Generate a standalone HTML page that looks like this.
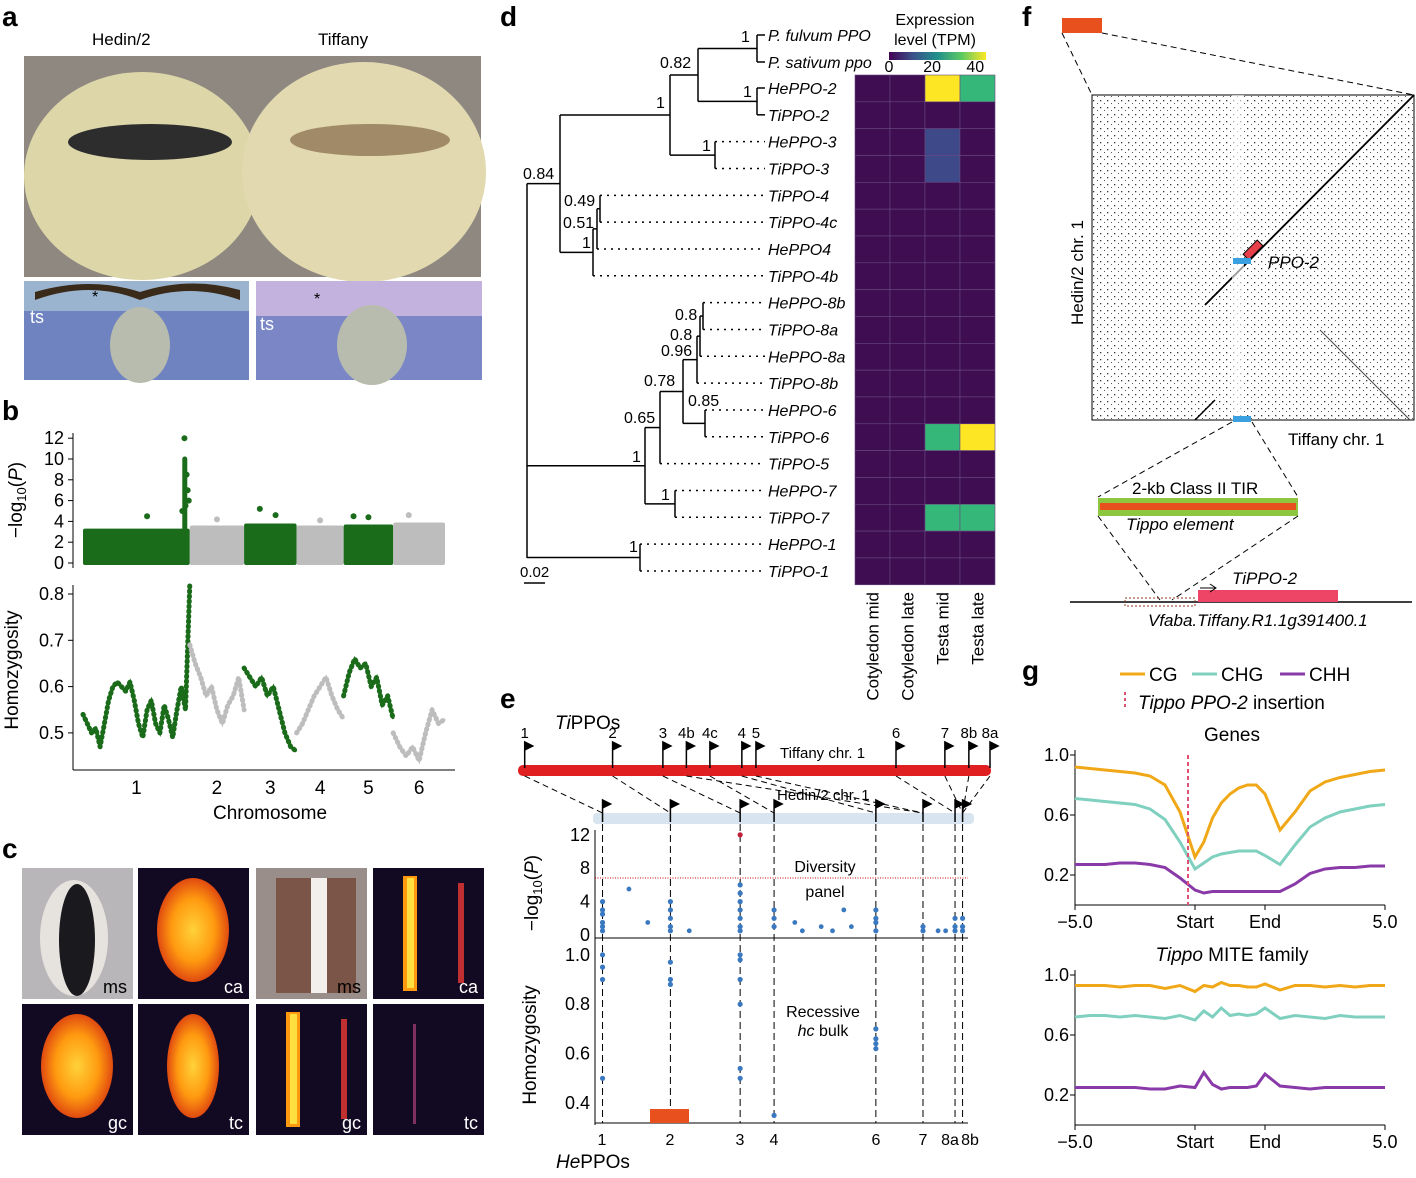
<!DOCTYPE html>
<html><head><meta charset="utf-8"><style>
body{margin:0;background:#fff}
svg{font-family:"Liberation Sans",Arial,sans-serif}
.pl{font-weight:bold;font-size:28px}
.t{font-size:17px}
.i{font-style:italic}
</style></head><body>
<svg id="fig" width="1416" height="1173" viewBox="0 0 1416 1173" xmlns="http://www.w3.org/2000/svg">
<defs>
<pattern id="dots" width="7" height="7" patternUnits="userSpaceOnUse"><rect x="1" y="2" width="1.3" height="1.3" fill="#333"/><rect x="5" y="5" width="1" height="1" fill="#555"/></pattern>
<linearGradient id="vir" x1="0" x2="1"><stop offset="0" stop-color="#440154"/><stop offset=".25" stop-color="#3b528b"/><stop offset=".5" stop-color="#21918c"/><stop offset=".75" stop-color="#5ec962"/><stop offset="1" stop-color="#fde725"/></linearGradient>
<radialGradient id="heat"><stop offset="0" stop-color="#ffd23a"/><stop offset=".6" stop-color="#ff9a10"/><stop offset="1" stop-color="#e04a10"/></radialGradient>
</defs>
<text class="pl" x="2" y="26">a</text>
<text class="pl" x="2" y="420">b</text>
<text class="pl" x="2" y="858">c</text>
<text class="pl" x="500" y="26">d</text>
<text class="pl" x="500" y="708">e</text>
<text class="pl" x="1022" y="26">f</text>
<text class="pl" x="1022" y="680">g</text>

<g>
<text class="t" x="92" y="45" font-size="19">Hedin/2</text>
<text class="t" x="318" y="45" font-size="19">Tiffany</text>
<rect x="24" y="56" width="457" height="221" fill="#8f8880"/>
<ellipse cx="142" cy="176" rx="118" ry="104" fill="#dcd6a8"/>
<ellipse cx="364" cy="172" rx="122" ry="110" fill="#e2d9b0"/>
<ellipse cx="150" cy="142" rx="82" ry="18" fill="#2d2d2d"/>
<ellipse cx="370" cy="140" rx="80" ry="16" fill="#a08a68"/>
<rect x="24" y="281" width="225" height="99" fill="#6f83c0"/>
<rect x="24" y="281" width="225" height="30" fill="#9ab4cf"/>
<path d="M35 300 Q90 280 140 300 Q190 282 240 300 L240 290 Q190 276 140 292 Q90 276 35 292Z" fill="#3a2a1a"/>
<ellipse cx="140" cy="345" rx="30" ry="38" fill="#b8bcae"/>
<rect x="256" y="281" width="226" height="99" fill="#7a86c6"/>
<rect x="256" y="281" width="226" height="35" fill="#c2b2dd"/>
<ellipse cx="372" cy="345" rx="35" ry="40" fill="#b8bcae"/>
<text x="30" y="323" font-size="18" fill="#fff">ts</text>
<text x="260" y="330" font-size="18" fill="#fff">ts</text>
<text x="92" y="302" font-size="16">*</text>
<text x="314" y="304" font-size="16">*</text>
</g>

<g id="pb"></g>
<g id="pc"></g>
<g id="pd"></g>
<g id="pe"></g>

<g>
<rect x="1062" y="18" width="40" height="15" fill="#e8501e"/>
<line x1="1062" y1="33" x2="1092" y2="95" stroke="#000" stroke-dasharray="6,4"/>
<line x1="1102" y1="33" x2="1414" y2="95" stroke="#000" stroke-dasharray="6,4"/>
<rect x="1092" y="95" width="322" height="325" fill="url(#dots)" stroke="#000"/>
<line x1="1205" y1="305" x2="1414" y2="95" stroke="#000" stroke-width="1.8"/>
<line x1="1195" y1="420" x2="1215" y2="400" stroke="#000" stroke-width="1.5"/>
<line x1="1320" y1="330" x2="1410" y2="420" stroke="#444" stroke-width="1"/>
<rect x="1232" y="95" width="12" height="325" fill="#fff" opacity=".6"/>
<rect x="1249" y="240" width="8" height="20" fill="#e8404a" stroke="#000" transform="rotate(45 1253 250)"/>
<rect x="1233" y="258" width="18" height="6" fill="#3aa0e0"/>
<rect x="1233" y="416" width="18" height="6" fill="#3aa0e0"/>
<text class="t i" x="1268" y="268" font-size="19">PPO-2</text>
<text class="t" x="1083" y="325" font-size="19" transform="rotate(-90 1083 325)">Hedin/2 chr. 1</text>
<text class="t" x="1288" y="445" font-size="19">Tiffany chr. 1</text>
<line x1="1232" y1="422" x2="1098" y2="497" stroke="#000" stroke-dasharray="6,4"/>
<line x1="1252" y1="422" x2="1298" y2="497" stroke="#000" stroke-dasharray="6,4"/>
<text class="t" x="1132" y="494" font-size="18">2-kb Class II TIR</text>
<rect x="1098" y="498" width="200" height="18" fill="#8dc63f"/>
<rect x="1100" y="503" width="196" height="7" fill="#e8501e"/>
<text class="t i" x="1126" y="530" font-size="18">Tippo element</text>
<line x1="1098" y1="516" x2="1160" y2="600" stroke="#000" stroke-dasharray="6,4"/>
<line x1="1298" y1="516" x2="1172" y2="600" stroke="#000" stroke-dasharray="6,4"/>
<line x1="1070" y1="602" x2="1412" y2="602" stroke="#000" stroke-width="1.5"/>
<rect x="1198" y="590" width="140" height="12" fill="#ee4466"/>
<rect x="1125" y="598" width="70" height="8" fill="none" stroke="#8a3a20" stroke-dasharray="2,2"/>
<path d="M1200 588 L1215 588 M1210 584 L1216 588 L1210 592" stroke="#000" fill="none"/>
<text class="t i" x="1232" y="584" font-size="19">TiPPO-2</text>
<text class="t i" x="1148" y="626" font-size="18">Vfaba.Tiffany.R1.1g391400.1</text>
</g>

<g id="pg"></g>
</svg>
<script>
const NS="http://www.w3.org/2000/svg";
function mk(p,tag,a,txt){const e=document.createElementNS(NS,tag);for(const k in a)e.setAttribute(k,a[k]);if(txt!==undefined)e.textContent=txt;p.appendChild(e);return e;}

const bChromLabels=["1","2","3","4","5","6"];
const bChromStart=[0,0.295,0.445,0.59,0.72,0.857];
const bBandTop=[3.3,3.6,3.8,3.6,3.7,3.9];
const bPeakChr=[0,0,0,0,0,0,0,2,2,4,4,5,1,3];
const bPeakPos=[0.95,0.97,0.98,0.99,0.96,0.93,0.6,0.3,0.6,0.2,0.5,0.3,0.5,0.5];
const bPeakVal=[12,8.5,7,6,5.5,5,4.5,5.2,4.6,4.5,4.4,4.6,4.2,4.1];
const bHomo=[
[0.54,0.52,0.50,0.51,0.47,0.52,0.57,0.60,0.61,0.60,0.59,0.61,0.57,0.52,0.49,0.55,0.57,0.52,0.50,0.56,0.53,0.49,0.55,0.60,0.55,0.82],
[0.69,0.65,0.62,0.58,0.60,0.55,0.52,0.56,0.58,0.62,0.55],
[0.64,0.62,0.60,0.62,0.58,0.60,0.55,0.50,0.47,0.46],
[0.50,0.52,0.55,0.58,0.60,0.62,0.58,0.55,0.53],
[0.58,0.63,0.66,0.64,0.65,0.60,0.62,0.56,0.58,0.53],
[0.50,0.47,0.45,0.47,0.44,0.50,0.55,0.52,0.53]];
const bPTicks=[0,2,4,6,8,10,12];
const bHTicks=[0.5,0.6,0.7,0.8];
(function(){
const g=document.getElementById('pb');
const x0=83,x1=445;const xs=f=>x0+f*(x1-x0);
const yP=v=>563-v*10.4, yH=v=>594+(0.8-v)*463;
const col=i=>i%2==0?"#1a6b1a":"#bdbdbd";
mk(g,'line',{x1:73,y1:433,x2:73,y2:568,stroke:'#000'});
bPTicks.forEach(t=>{mk(g,'line',{x1:68,y1:yP(t),x2:73,y2:yP(t),stroke:'#000'});const e=mk(g,'text',{x:64,y:yP(t)+6,'text-anchor':'end','font-size':18},t);});
const tt=mk(g,'text',{x:22,y:500,'font-size':19,'text-anchor':'middle',transform:'rotate(-90 22 500)'},'−log');mk(tt,'tspan',{'font-size':13,dy:4},'10');mk(tt,'tspan',{dy:-4},'(');mk(tt,'tspan',{'font-style':'italic'},'P');mk(tt,'tspan',{},')');

for(let i=0;i<6;i++){const a=xs(bChromStart[i]),b=xs(i<5?bChromStart[i+1]:1);
 const r=mk(g,'rect',{x:a,y:yP(bBandTop[i]),width:b-a,height:yP(0)-yP(bBandTop[i])+2,fill:col(i),rx:2});
 }
bPeakChr.forEach((c,k)=>{const a=xs(bChromStart[c]),b=xs(c<5?bChromStart[c+1]:1);
 const e=mk(g,'circle',{cx:a+bPeakPos[k]*(b-a),cy:yP(bPeakVal[k]),r:3,fill:col(c)});});
mk(g,'line',{x1:xs(bChromStart[1])-5,y1:yP(3),x2:xs(bChromStart[1])-5,y2:yP(10),stroke:col(0),'stroke-width':5,'stroke-linecap':'round'});
mk(g,'line',{x1:73,y1:585,x2:73,y2:770,stroke:'#000'});mk(g,'line',{x1:73,y1:770,x2:455,y2:770,stroke:'#000'});
bHTicks.forEach(t=>{mk(g,'line',{x1:68,y1:yH(t),x2:73,y2:yH(t),stroke:'#000'});const e=mk(g,'text',{x:64,y:yH(t)+6,'text-anchor':'end','font-size':18},t.toFixed(1));});
const ht=mk(g,'text',{x:18,y:670,'font-size':19,'text-anchor':'middle',transform:'rotate(-90 18 670)'},'Homozygosity');
bHomo.forEach((arr,i)=>{const a=xs(bChromStart[i]),b=xs(i<5?bChromStart[i+1]:1);
 const pts=arr.map((v,k)=>(a+k*(b-a)/(arr.length-1)).toFixed(1)+','+yH(v).toFixed(1)).join(' ');
 const pl=mk(g,'polyline',{points:pts,fill:'none',stroke:col(i),'stroke-width':5,'stroke-linejoin':'round','stroke-linecap':'round','stroke-dasharray':'1,4'});
 
 mk(g,'polyline',{points:pts,fill:'none',stroke:col(i),'stroke-width':2.5});
 const e=mk(g,'text',{x:(a+b)/2,y:794,'text-anchor':'middle','font-size':19},bChromLabels[i]);});
const xt=mk(g,'text',{x:270,y:819,'text-anchor':'middle','font-size':19},'Chromosome');
})();

(function(){
const g=document.getElementById('pc');
const tx=[22,138,256,373],ty=[868,1004],w=111,h=131;
const labels=[["ms","ca","ms","ca"],["gc","tc","gc","tc"]];
for(let r=0;r<2;r++)for(let c=0;c<4;c++){
 const x=tx[c],y=ty[r];
 const t=mk(g,'rect',{x:x,y:y,width:w,height:h,fill:(r==0&&c==0)?'#b8b6b8':(r==0&&c==2)?'#9a8e8a':'#120a22'});
 
 if(r==0&&c==0){mk(g,'ellipse',{cx:x+52,cy:y+70,rx:34,ry:58,fill:'#e6e2de'});mk(g,'ellipse',{cx:x+55,cy:y+72,rx:18,ry:56,fill:'#1a1a1e'});}
 else if(r==0&&c==2){mk(g,'rect',{x:x+20,y:y+10,width:80,height:115,fill:'#7b5548'});mk(g,'rect',{x:x+55,y:y+10,width:16,height:115,fill:'#f2efec'});}
 else if((c==1||c==0)&&!(r==0&&c==0)){mk(g,'ellipse',{cx:x+55,cy:y+62,rx:c==1&&r==1?26:36,ry:52,fill:'url(#heat)'});}
 else if(c==3&&r==1){mk(g,'rect',{x:x+40,y:y+20,width:3,height:100,fill:'#803060'});}
 else{mk(g,'rect',{x:x+30,y:y+8,width:14,height:115,fill:'#ff9a10'});mk(g,'rect',{x:x+34,y:y+10,width:7,height:110,fill:'#ffe040'});mk(g,'rect',{x:x+85,y:y+15,width:6,height:100,fill:'#c03030'});}
 const e=mk(g,'text',{x:x+w-6,y:y+h-6,'text-anchor':'end','font-size':18,fill:(r==0&&c%2==0)?'#000':'#fff'},labels[r][c]);
 
}})();

const dGenes=["HePPO-2","TiPPO-2","HePPO-3","TiPPO-3","TiPPO-4","TiPPO-4c","HePPO4","TiPPO-4b","HePPO-8b","TiPPO-8a","HePPO-8a","TiPPO-8b","HePPO-6","TiPPO-6","TiPPO-5","HePPO-7","TiPPO-7","HePPO-1","TiPPO-1"];
const dConditions=["Cotyledon mid","Cotyledon late","Testa mid","Testa late"];
const dCotMid=[0,0,0,0,0,0,0,0,0,0,0,0,0,0,0,0,0,0,0];
const dCotLate=[0,0,0,0,0,0,0,0,0,0,0,0,0,0,0,0,0,0,0];
const dTestaMid=[44,2,9,9,0,0,0,0,0,0,0,0,0,31,0,0,30,0,0];
const dTestaLate=[30,2,2,2,0,0,0,0,0,0,0,0,0,44,0,0,30,0,0];
const dColorTicks=[0,20,40];
(function(){
const g=document.getElementById('pd');
const rowY=i=>88+i*26.83;
const hx0=855,cw=35,ht=75;
const vir=["#440154","#482878","#3e4989","#31688e","#26828e","#1f9e89","#35b779","#6ece58","#b5de2b","#fde725"];
const cmap=v=>vir[Math.min(9,Math.round(v/45*9))];
const cols=[dCotMid,dCotLate,dTestaMid,dTestaLate];
cols.forEach((arr,c)=>{arr.forEach((v,i)=>{const r=mk(g,'rect',{x:hx0+c*cw,y:ht+i*26.83,width:cw,height:26.83,fill:v<4?'#3e0d52':cmap(v),stroke:'#6a4a80','stroke-width':0.6});
 });
 const e=mk(g,'text',{x:hx0+c*cw+cw/2+6,y:592,'font-size':17,'text-anchor':'end',transform:`rotate(-90 ${hx0+c*cw+cw/2+6} 592)`},dConditions[c]);
 });
mk(g,'text',{x:935,y:25,'font-size':16,'text-anchor':'middle'},'Expression');
mk(g,'text',{x:935,y:45,'font-size':16,'text-anchor':'middle'},'level (TPM)');
const cb=mk(g,'rect',{x:889,y:52,width:97,height:8,fill:'url(#vir)'});
dColorTicks.forEach(t=>{const e=mk(g,'text',{x:889+t/45*97,y:72,'font-size':16,'text-anchor':'middle'},t);});
const leaves={"P. fulvum PPO":35,"P. sativum ppo":62};dGenes.forEach((n,i)=>leaves[n]=rowY(i));
const N=(x,kids,lab,lx,ly)=>({x,kids,lab,lx,ly});
const fs=N(757,["P. fulvum PPO","P. sativum ppo"],"1",741,42);
const n2=N(757,["HePPO-2","TiPPO-2"],"1",743,97);
const na=N(698,[fs,n2],"0.82",660,68);
const n3=N(715,["HePPO-3","TiPPO-3"],"1",702,151);
const nb=N(670,[na,n3],"1",656,108);
const n4a=N(600,["TiPPO-4","TiPPO-4c"],"0.49",564,206);
const n4b=N(597,[n4a,"HePPO4"],"0.51",563,228);
const n4=N(593,[n4b,"TiPPO-4b"],"1",582,248);
const nc=N(560,[nb,n4],"0.84",523,179);
const n8x=N(703,["HePPO-8b","TiPPO-8a"],"0.8",675,320);
const n8y=N(700,[n8x,"HePPO-8a"],"0.8",670,340);
const n8z=N(697,[n8y,"TiPPO-8b"],"0.96",661,356);
const n6=N(705,["HePPO-6","TiPPO-6"],"0.85",688,406);
const n86=N(683,[n8z,n6],"0.78",644,386);
const n865=N(660,[n86,"TiPPO-5"],"0.65",624,423);
const n7=N(675,["HePPO-7","TiPPO-7"],"1",661,500);
const ng=N(645,[n865,n7],"1",632,462);
const n1=N(640,["HePPO-1","TiPPO-1"],"1",629,552);
const root=N(527,[nc,ng,n1],null);
function ny(n){if(typeof n==='string')return leaves[n];const ys=n.kids.map(ny);return n.kids.length==3?ys[0]:(ys[0]+ys[ys.length-1])/2;}
function draw(n){const ys=n.kids.map(ny);
 mk(g,'line',{x1:n.x,y1:Math.min(...ys),x2:n.x,y2:Math.max(...ys),stroke:'#000','stroke-width':1.5});
 n.kids.forEach((k,i)=>{if(typeof k==='string'){const solid=k.startsWith('P.')||k.endsWith('PPO-2');
   mk(g,'line',{x1:n.x,y1:ys[i],x2:765,y2:ys[i],stroke:'#000','stroke-width':1.5,'stroke-dasharray':solid?'':'2,5'});
   const e=mk(g,'text',{x:768,y:ys[i]+6,'font-size':16,'font-style':'italic'},k);}
  else{mk(g,'line',{x1:n.x,y1:ys[i],x2:k.x,y2:ys[i],stroke:'#000','stroke-width':1.5});draw(k);}});
 if(n.lab){const e=mk(g,'text',{x:n.lx,y:n.ly,'font-size':16},n.lab);}}
draw(root);
mk(g,'line',{x1:527,y1:ny(n1),x2:527,y2:558,stroke:'#000','stroke-width':1.5});
mk(g,'text',{x:520,y:577,'font-size':15},'0.02');mk(g,'line',{x1:524,y1:583,x2:545,y2:583,stroke:'#000','stroke-width':1.5});
})();

const eTiLabels=["1","2","3","4b","4c","4","5","6","7","8b","8a"];
const eTiPos=[0.01,0.197,0.304,0.354,0.404,0.472,0.502,0.80,0.904,0.955,1.0];
const eHeLabels=["1","2","3","4","6","7","8a","8b"];
const eHePos=[0.02,0.20,0.385,0.475,0.745,0.87,0.955,0.975];
const eHeP=[[4,2.5,1,0.5,3,1.5],[4,3,2,1,0.5],[12,6,5,4,3,2,1,0.5],[3,2,1],[3,2,1.5,0.5],[1,0.5],[2,1,0.5],[2,1,0.5]];
const eHeHom=[[1.0,0.95,0.9,0.5],[0.97,0.9,0.88],[1.0,0.98,0.9,0.8,0.54,0.5],[0.35],[0.7,0.66,0.64,0.62],[],[],[]];
const eExtraPX=[0.09,0.14,0.25,0.53,0.55,0.6,0.63,0.66,0.68,0.91,0.93];
const eExtraPV=[5.5,1.5,0.5,1.5,0.5,1,0.5,3,1,0.5,0.5];
const ePTicks=[0,4,8,12];
const eHTicks=[0.4,0.6,0.8,1.0];
(function(){
const g=document.getElementById('pe');
const hx0=595,hx1=972;const hx=f=>hx0+f*(hx1-hx0);
const tx=f=>520+f*470;
const yP=v=>935-v*8.35, yH=v=>1103-(v-0.4)*247;
mk(g,'text',{x:555,y:729,'font-size':19},'').innerHTML='<tspan font-style="italic">Ti</tspan>PPOs';
const cb=mk(g,'rect',{x:518,y:765,width:473,height:11,rx:5,fill:'#e02020'});
mk(g,'text',{x:780,y:758,'font-size':15},'Tiffany chr. 1');
const hb=mk(g,'rect',{x:593,y:813,width:381,height:11,rx:4,fill:'#d8e4f0'});
mk(g,'text',{x:777,y:800,'font-size':15},'Hedin/2 chr. 1');
eTiLabels.forEach((l,i)=>{const x=tx(eTiPos[i]);
 mk(g,'path',{d:`M${x} 768 L${x} 742 L${x+8} 746 L${x} 750`,stroke:'#000',fill:'#000','stroke-width':1.5});
 const e=mk(g,'text',{x:x,y:738,'font-size':15,'text-anchor':'middle'},l);});
const map=[0,1,2,5,3,4,5,6,7,8,9];
eTiLabels.forEach((l,i)=>{const j=Math.min(map[i],7);mk(g,'line',{x1:tx(eTiPos[i]),y1:776,x2:hx(eHePos[j]),y2:813,stroke:'#000','stroke-dasharray':'6,4'});});
mk(g,'line',{x1:595,y1:830,x2:595,y2:1125,stroke:'#000'});
mk(g,'line',{x1:595,y1:938,x2:968,y2:938,stroke:'#000'});
mk(g,'line',{x1:595,y1:1123,x2:968,y2:1123,stroke:'#000'});
mk(g,'line',{x1:595,y1:878,x2:968,y2:878,stroke:'#c00','stroke-dasharray':'1,1.5'});
ePTicks.forEach(t=>{const e=mk(g,'text',{x:590,y:yP(t)+6,'font-size':18,'text-anchor':'end'},t);});
eHTicks.forEach(t=>{const e=mk(g,'text',{x:590,y:yH(t)+6,'font-size':18,'text-anchor':'end'},t.toFixed(1));});
const pt=mk(g,'text',{x:538,y:893,'font-size':19,'text-anchor':'middle',transform:'rotate(-90 538 893)'},'');pt.innerHTML='−log<tspan font-size="13" dy="4">10</tspan><tspan dy="-4">(</tspan><tspan font-style="italic">P</tspan>)';
mk(g,'text',{x:536,y:1045,'font-size':19,'text-anchor':'middle',transform:'rotate(-90 536 1045)'},'Homozygosity');
mk(g,'text',{x:825,y:872,'font-size':16,'text-anchor':'middle'},'Diversity');
mk(g,'text',{x:825,y:897,'font-size':16,'text-anchor':'middle'},'panel');
mk(g,'text',{x:823,y:1017,'font-size':16,'text-anchor':'middle'},'Recessive');
mk(g,'text',{x:823,y:1036,'font-size':16,'text-anchor':'middle'},'').innerHTML='<tspan font-style="italic">hc</tspan> bulk';
const labX=[602,670,740,774,876,923,950,970];
eHeLabels.forEach((l,i)=>{const x=hx(eHePos[i]);
 mk(g,'path',{d:`M${x} 822 L${x} 800 L${x+8} 804 L${x} 808`,stroke:'#000',fill:'#000','stroke-width':1.5});
 mk(g,'line',{x1:x,y1:824,x2:x,y2:1123,stroke:'#000','stroke-dasharray':'7,4'});
 const e=mk(g,'text',{x:labX[i],y:1145,'font-size':16,'text-anchor':'middle'},l);
 eHeP[i].forEach(v=>{const c=mk(g,'circle',{cx:x,cy:yP(v),r:2.6,fill:v>=12?'#c0203a':'#3a78c0'});});
 eHeHom[i].forEach(v=>{const c=mk(g,'circle',{cx:x,cy:yH(v),r:2.6,fill:'#3a78c0'});});});
eExtraPX.forEach((f,i)=>{const c=mk(g,'circle',{cx:hx(f),cy:yP(eExtraPV[i]),r:2.4,fill:'#3a78c0'});});
const rr=mk(g,'rect',{x:650,y:1109,width:39,height:14,fill:'#e8501e'});
mk(g,'text',{x:556,y:1168,'font-size':19},'').innerHTML='<tspan font-style="italic">He</tspan>PPOs';
})();

const gXTicks=["−5.0","Start","End","5.0"];
const gYTicks=[0.2,0.6,1.0];
const gGenesCG=[0.92,0.91,0.90,0.89,0.88,0.86,0.80,0.62,0.32,0.42,0.58,0.68,0.74,0.78,0.80,0.80,0.74,0.50,0.62,0.76,0.82,0.85,0.87,0.89,0.90];
const gGenesCHG=[0.71,0.70,0.69,0.68,0.67,0.64,0.57,0.42,0.24,0.28,0.32,0.34,0.35,0.36,0.36,0.36,0.33,0.27,0.40,0.52,0.58,0.62,0.64,0.66,0.67];
const gGenesCHH=[0.27,0.27,0.27,0.28,0.28,0.27,0.25,0.18,0.10,0.08,0.09,0.09,0.09,0.09,0.09,0.09,0.09,0.09,0.14,0.21,0.24,0.25,0.25,0.26,0.26];
const gMiteCG=[0.93,0.93,0.93,0.92,0.93,0.93,0.91,0.93,0.89,0.93,0.92,0.95,0.93,0.93,0.92,0.92,0.94,0.90,0.93,0.93,0.92,0.93,0.92,0.93,0.93];
const gMiteCHG=[0.72,0.73,0.73,0.72,0.73,0.72,0.71,0.73,0.70,0.76,0.72,0.78,0.73,0.74,0.73,0.74,0.78,0.71,0.73,0.72,0.71,0.73,0.72,0.72,0.72];
const gMiteCHH=[0.25,0.25,0.25,0.25,0.25,0.24,0.24,0.26,0.25,0.35,0.27,0.24,0.25,0.25,0.25,0.26,0.34,0.26,0.25,0.24,0.25,0.25,0.25,0.25,0.25];
(function(){
const g=document.getElementById('pg');
const cols=["#f0a818","#80d0c0","#8a3aa8"],names=["CG","CHG","CHH"];
[1120,1192,1280].forEach((x,i)=>{mk(g,'line',{x1:x,y1:674,x2:x+25,y2:674,stroke:cols[i],'stroke-width':3});
 const e=mk(g,'text',{x:x+29,y:681,'font-size':19},names[i]);});
mk(g,'line',{x1:1125,y1:692,x2:1125,y2:710,stroke:'#e05070','stroke-width':2,'stroke-dasharray':'3,3'});
mk(g,'text',{x:1138,y:709,'font-size':19},'').innerHTML='<tspan font-style="italic">Tippo PPO-2</tspan> insertion';
function chart(top,title,series,ins){
 const L=1075,R=1385,S=1195,E=1265;
 const y=v=>top+(1-v)*150, bot=top+150;
 const xi=k=>{const n=25;const f=k/(n-1);if(f<8/24)return L+f*24/8*(S-L);if(f<16/24)return S+(f-8/24)*24/8*(E-S);return E+(f-16/24)*24/8*(R-E);};
 mk(g,'line',{x1:L,y1:top-5,x2:L,y2:bot,stroke:'#000'});mk(g,'line',{x1:L,y1:bot,x2:R,y2:bot,stroke:'#000'});
 const t=mk(g,'text',{x:1232,y:top-14,'font-size':19,'text-anchor':'middle'},'');t.innerHTML=title;
 gYTicks.forEach(v=>{mk(g,'line',{x1:L-5,y1:y(v),x2:L,y2:y(v),stroke:'#000'});const e=mk(g,'text',{x:L-6,y:y(v)+6,'font-size':18,'text-anchor':'end'},v.toFixed(1));});
 [L,S,E,R].forEach((x,i)=>{mk(g,'line',{x1:x,y1:bot,x2:x,y2:bot+5,stroke:'#000'});const e=mk(g,'text',{x:x,y:bot+23,'font-size':18,'text-anchor':'middle'},gXTicks[i]);});
 series.forEach((arr,i)=>{const p=mk(g,'polyline',{points:arr.map((v,k)=>xi(k).toFixed(1)+','+y(v).toFixed(1)).join(' '),fill:'none',stroke:cols[i],'stroke-width':3});
  });
 if(ins)mk(g,'line',{x1:1188,y1:top,x2:1188,y2:bot,stroke:'#e05070','stroke-width':2,'stroke-dasharray':'4,3'});
}
chart(755,'Genes',[gGenesCG,gGenesCHG,gGenesCHH],true);
chart(975,'<tspan font-style="italic">Tippo</tspan> MITE family',[gMiteCG,gMiteCHG,gMiteCHH],false);
})();
</script>
</body></html>
